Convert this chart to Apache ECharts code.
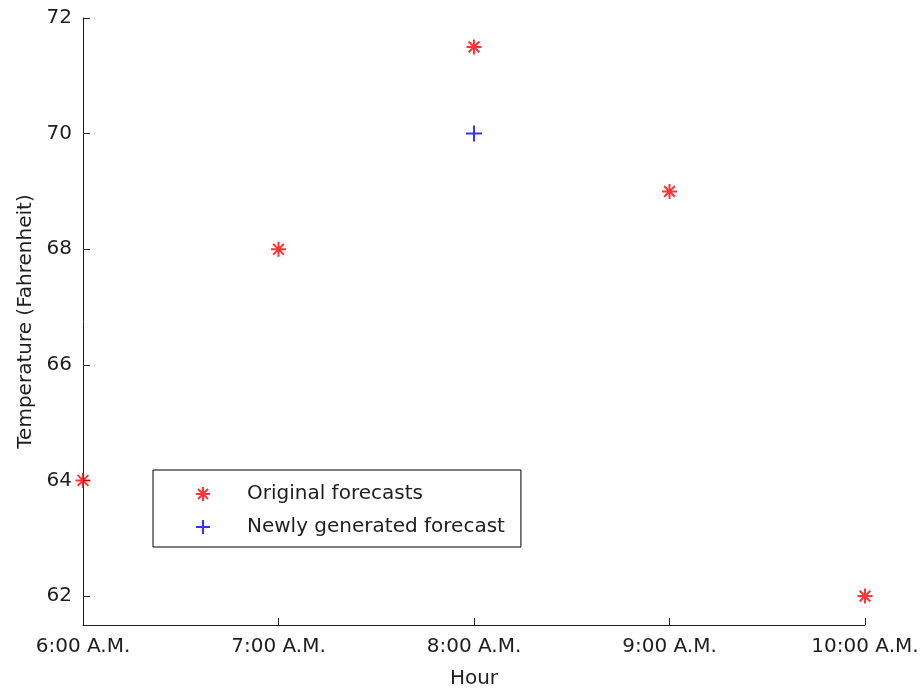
<!DOCTYPE html>
<html>
<head>
<meta charset="utf-8">
<script src="https://cdn.jsdelivr.net/npm/echarts@6/dist/echarts.min.js"></script>
<style>
  html, body { margin: 0; padding: 0; background: #fff; }
  #chart { width: 923px; height: 689px; }
</style>
</head>
<body>
<div id="chart"></div>
<script>
// Hourly temperature forecasts
const hours = [6, 7, 8, 9, 10];
const originalForecasts = [64, 68, 71.5, 69, 62];
const newHours = [8];
const newForecasts = [70];
const hourLabels = ['6:00 A.M.', '7:00 A.M.', '8:00 A.M.', '9:00 A.M.', '10:00 A.M.'];
const tempTicks = [62, 64, 66, 68, 70, 72];

const FONT = 'DejaVu Sans';
const INK = '#1e1e1e';

// Stroke-only marker shapes
const ASTERISK = 'path://M0,7L14,7M7,0L7,14M2,2L12,12M2,12L12,2';
const PLUS = 'path://M0,7L14,7M7,0L7,14';

const chart = echarts.init(document.getElementById('chart'), null, { renderer: 'canvas' });

chart.setOption({
  backgroundColor: '#fff',
  animation: false,
  textStyle: { fontFamily: FONT, color: INK },
  grid: { left: 83, right: 58, top: 18, bottom: 64, containLabel: false, outerBoundsMode: 'none' },
  legend: {
    orient: 'vertical',
    left: 153,
    top: 470,
    padding: [14, 16, 10, 42],
    itemWidth: 78,
    itemHeight: 14,
    itemGap: 13,
    symbolKeepAspect: true,
    backgroundColor: '#fff',
    borderColor: '#000',
    borderWidth: 1,
    borderRadius: 0,
    textStyle: { fontFamily: FONT, fontSize: 20, color: INK },
    data: [
      { name: 'Original forecasts', icon: ASTERISK },
      { name: 'Newly generated forecast', icon: PLUS }
    ]
  },
  xAxis: {
    type: 'value',
    min: 6,
    max: 10,
    interval: 1,
    name: 'Hour',
    nameLocation: 'middle',
    nameGap: 44,
    nameTextStyle: { fontFamily: FONT, fontSize: 20, color: INK },
    axisLine: { show: true, lineStyle: { color: INK, width: 1 } },
    axisTick: { show: true, inside: true, length: 7, lineStyle: { color: INK } },
    axisLabel: {
      fontFamily: FONT, fontSize: 20, color: INK, margin: 12,
      formatter: v => hourLabels[hours.indexOf(v)] ?? ''
    },
    splitLine: { show: false }
  },
  yAxis: {
    type: 'value',
    min: 61.5,
    max: 72,
    name: 'Temperature (Fahrenheit)',
    nameLocation: 'middle',
    nameGap: 47,
    nameRotate: 90,
    nameTextStyle: { fontFamily: FONT, fontSize: 20, color: INK },
    axisLine: { show: true, lineStyle: { color: INK, width: 1 } },
    axisTick: { show: true, inside: true, length: 7, customValues: tempTicks, lineStyle: { color: INK } },
    axisLabel: { fontFamily: FONT, fontSize: 20, color: INK, margin: 11, customValues: tempTicks },
    splitLine: { show: false }
  },
  series: [
    {
      name: 'Original forecasts',
      type: 'scatter',
      clip: false,
      symbol: ASTERISK,
      symbolSize: 15,
      itemStyle: { color: 'rgba(0,0,0,0)', borderColor: '#ff0000', borderWidth: 2 },
      data: hours.map((h, i) => [h, originalForecasts[i]])
    },
    {
      name: 'Newly generated forecast',
      type: 'scatter',
      clip: false,
      symbol: PLUS,
      symbolSize: 16,
      itemStyle: { color: 'rgba(0,0,0,0)', borderColor: '#0000ff', borderWidth: 2 },
      data: newHours.map((h, i) => [h, newForecasts[i]])
    }
  ]
});
</script>
</body>
</html>
